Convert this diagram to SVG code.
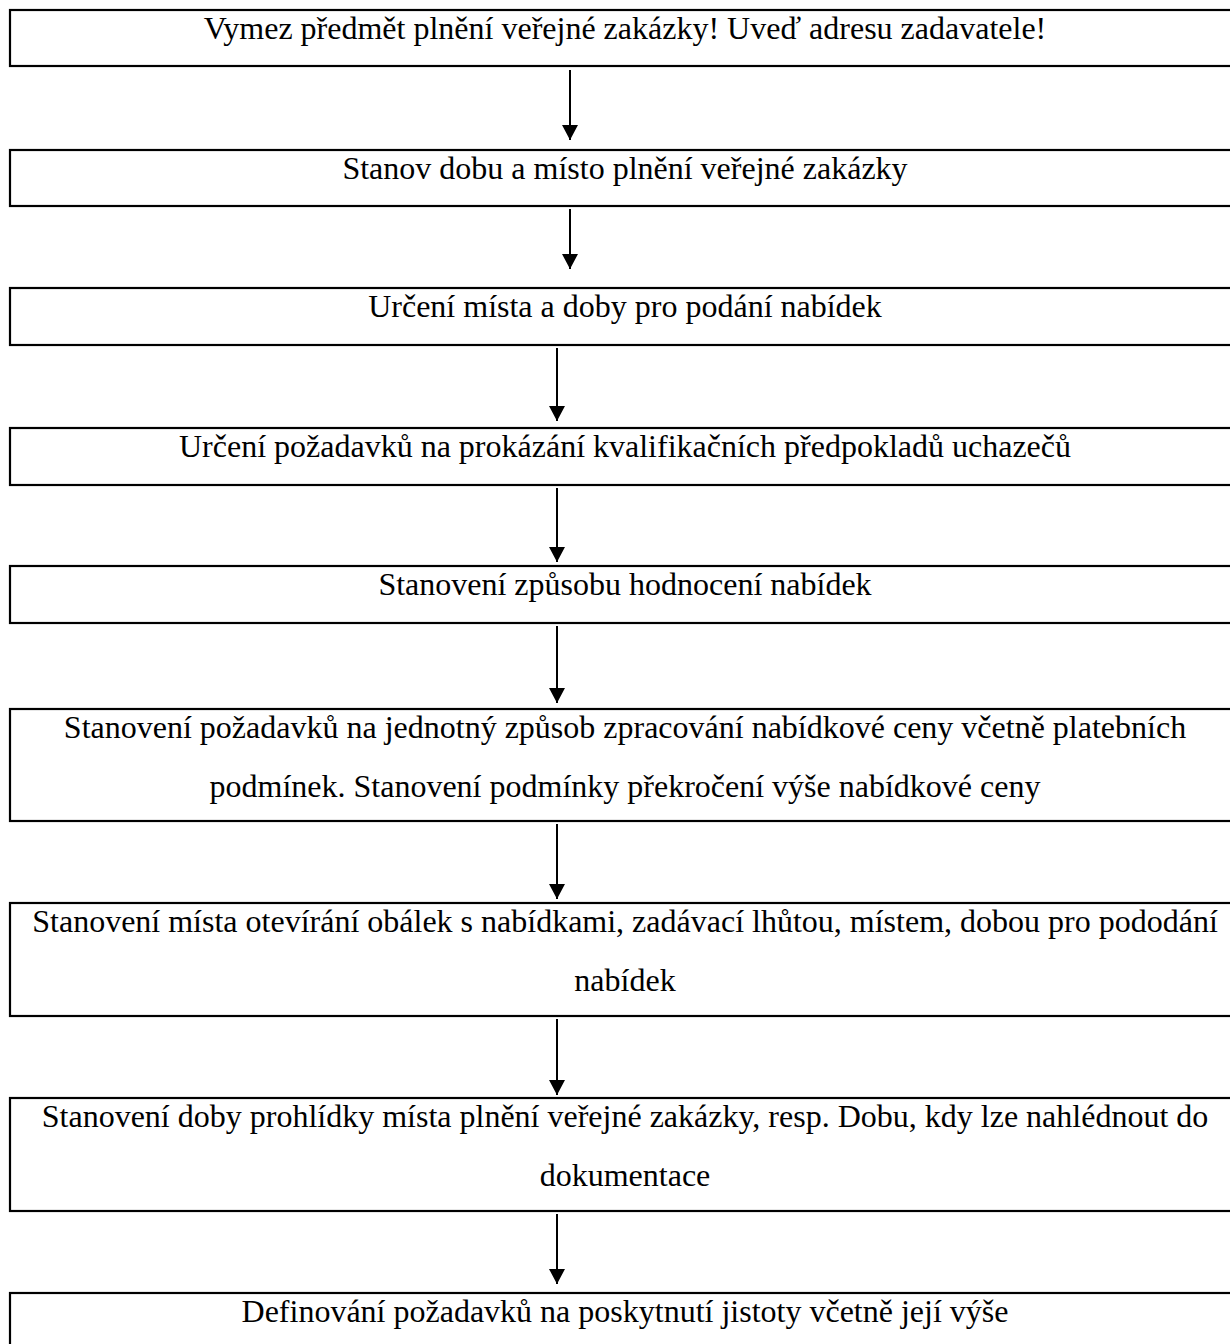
<svg xmlns="http://www.w3.org/2000/svg" width="1230" height="1344" viewBox="0 0 1230 1344">
<style>
.box{fill:#fff;stroke:#000;stroke-width:2.2}
.t{font-family:"Liberation Serif","Times New Roman",serif;font-size:32px;fill:#000;text-anchor:middle}
.c{stroke:#000;stroke-width:2;fill:none}
</style>
<defs>
<marker id="ah" markerUnits="userSpaceOnUse" markerWidth="16" markerHeight="16" refX="15" refY="8" orient="auto">
<path d="M0,0 L15,8 L0,16 Z" fill="#000"/>
</marker>
</defs>
<rect width="1230" height="1344" fill="#fff"/>
<g id="connectors">
<line class="c" x1="570" y1="70" x2="570" y2="140" marker-end="url(#ah)"/>
<line class="c" x1="570" y1="209" x2="570" y2="269" marker-end="url(#ah)"/>
<line class="c" x1="557" y1="348" x2="557" y2="421" marker-end="url(#ah)"/>
<line class="c" x1="557" y1="488" x2="557" y2="562" marker-end="url(#ah)"/>
<line class="c" x1="557" y1="626" x2="557" y2="703" marker-end="url(#ah)"/>
<line class="c" x1="557" y1="824" x2="557" y2="899" marker-end="url(#ah)"/>
<line class="c" x1="557" y1="1019" x2="557" y2="1095" marker-end="url(#ah)"/>
<line class="c" x1="557" y1="1214" x2="557" y2="1284" marker-end="url(#ah)"/>
</g>
<g id="n1"><rect class="box" x="10" y="10" width="1235" height="56"/><text class="t" x="625" y="39">Vymez předmět plnění veřejné zakázky! Uveď adresu zadavatele!</text></g>
<g id="n2"><rect class="box" x="10" y="150" width="1235" height="56"/><text class="t" x="625" y="179">Stanov dobu a místo plnění veřejné zakázky</text></g>
<g id="n3"><rect class="box" x="10" y="288" width="1235" height="57"/><text class="t" x="625" y="317">Určení místa a doby pro podání nabídek</text></g>
<g id="n4"><rect class="box" x="10" y="428" width="1235" height="57"/><text class="t" x="625" y="457">Určení požadavků na prokázání kvalifikačních předpokladů uchazečů</text></g>
<g id="n5"><rect class="box" x="10" y="566" width="1235" height="57"/><text class="t" x="625" y="595">Stanovení způsobu hodnocení nabídek</text></g>
<g id="n6"><rect class="box" x="10" y="709" width="1235" height="112"/><text class="t" x="625" y="738">Stanovení požadavků na jednotný způsob zpracování nabídkové ceny včetně platebních</text><text class="t" x="625" y="797">podmínek. Stanovení podmínky překročení výše nabídkové ceny</text></g>
<g id="n7"><rect class="box" x="10" y="903" width="1235" height="113"/><text class="t" x="625" y="932">Stanovení místa otevírání obálek s nabídkami, zadávací lhůtou, místem, dobou pro pododání</text><text class="t" x="625" y="991">nabídek</text></g>
<g id="n8"><rect class="box" x="10" y="1098" width="1235" height="113"/><text class="t" x="625" y="1127">Stanovení doby prohlídky místa plnění veřejné zakázky, resp. Dobu, kdy lze nahlédnout do</text><text class="t" x="625" y="1186">dokumentace</text></g>
<g id="n9"><rect class="box" x="10" y="1293" width="1235" height="60"/><text class="t" x="625" y="1322">Definování požadavků na poskytnutí jistoty včetně její výše</text></g>
</svg>
